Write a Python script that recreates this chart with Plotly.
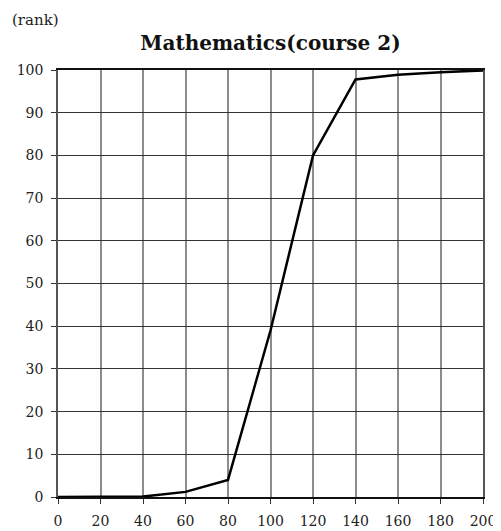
import plotly.graph_objects as go

scores = [0, 20, 40, 60, 80, 100, 120, 140, 160, 180, 200]
ranks = [0, 0, 0.1, 1.2, 4.0, 39, 80, 97.8, 98.9, 99.5, 99.9]
x_ticks = [0, 20, 40, 60, 80, 100, 120, 140, 160, 180, 200]
y_ticks = [0, 10, 20, 30, 40, 50, 60, 70, 80, 90, 100]

font_family = "DejaVu Serif"

# page body has an 8px default margin, so the figure is sized to fit the window
W, H = 493, 523

fig = go.Figure()
fig.add_trace(go.Scatter(
    x=scores, y=ranks, mode="lines",
    line=dict(color="black", width=2.5),
    showlegend=False, hoverinfo="skip",
))

fig.update_layout(
    width=W, height=H,
    margin=dict(l=50, r=18, t=62, b=34, autoexpand=False),
    paper_bgcolor="white", plot_bgcolor="white",
    font=dict(family=font_family, size=14, color="#222"),
    title=dict(
        text="<b>Mathematics(course 2)</b>",
        x=0.5, xref="paper", xanchor="center",
        y=1 - 35 / H, yref="container", yanchor="middle",
        font=dict(family=font_family, size=20, color="#111"),
    ),
    xaxis=dict(
        range=[0, 200], tickvals=x_ticks,
        showgrid=True, gridcolor="#8c8c8c", gridwidth=2,
        showline=True, linecolor="#111", linewidth=1.5, mirror=True,
        ticks="outside", ticklen=5, tickcolor="#333", tickwidth=1,
        ticklabelstandoff=5,
        zeroline=False, fixedrange=True, automargin=False,
        tickfont=dict(family=font_family, size=14, color="#222"),
    ),
    yaxis=dict(
        range=[0, 100], tickvals=y_ticks,
        showgrid=True, gridcolor="#333", gridwidth=1,
        showline=True, linecolor="#555", linewidth=1.5, mirror=True,
        ticks="outside", ticklen=5, tickcolor="#333", tickwidth=1,
        ticklabelstandoff=5,
        zeroline=False, fixedrange=True, automargin=False,
        tickfont=dict(family=font_family, size=14, color="#222"),
    ),
    annotations=[dict(
        text="(rank)", xref="paper", yref="paper",
        x=(10 - 58) / 425, y=(497 - 20) / 427,
        xanchor="left", yanchor="middle", showarrow=False,
        font=dict(family=font_family, size=15, color="#222"),
    )],
)

fig.write_html("out.html")
